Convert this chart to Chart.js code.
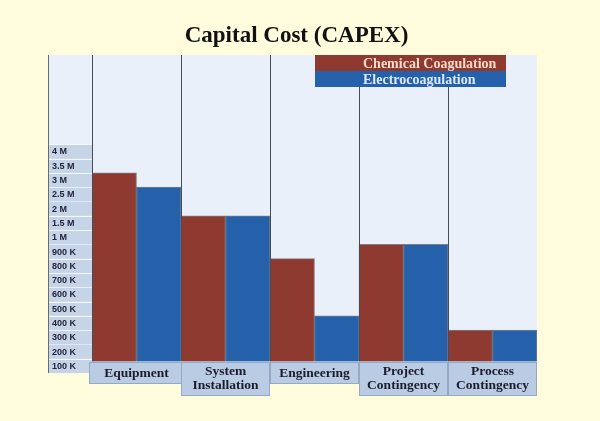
<!DOCTYPE html>
<html>
<head>
<meta charset="utf-8">
<script src="https://cdn.jsdelivr.net/npm/chart.js@4"></script>
<style>
  body { margin: 0; background: #fffcdd; }
  #wrap { position: relative; width: 600px; height: 421px; }
  #title {
    position: absolute; left: 0; top: 23px; width: 593px; text-align: center;
    font: bold 23px "Liberation Serif", serif; line-height: 24px; color: #111;
  }
  canvas { position: absolute; left: 0; top: 0; }
</style>
</head>
<body>
<div id="wrap">
  <canvas id="capexChart" width="600" height="421"></canvas>
  <div id="title">Capital Cost (CAPEX)</div>
</div>
<script>
const categories = [["Equipment"], ["System", "Installation"], ["Engineering"], ["Project", "Contingency"], ["Process", "Contingency"]];
const tickLabels = ["100 K", "200 K", "300 K", "400 K", "500 K", "600 K", "700 K", "800 K", "900 K", "1 M", "1.5 M", "2 M", "2.5 M", "3 M", "3.5 M", "4 M"];
const tickValues = [100000, 200000, 300000, 400000, 500000, 600000, 700000, 800000, 900000, 1000000, 1500000, 2000000, 2500000, 3000000, 3500000, 4000000];
const chemical = [3000000, 1500000, 800000, 900000, 300000];
const electro = [2500000, 1500000, 400000, 900000, 300000];

// the axis is not linear: each labelled box is one step, value sits on the top edge of its box
function toSteps(v) {
  for (let i = 0; i < tickValues.length - 1; i++) {
    if (v <= tickValues[i + 1]) {
      return i + 1 + (v - tickValues[i]) / (tickValues[i + 1] - tickValues[i]);
    }
  }
  return tickValues.length;
}

const decor = {
  id: 'decor',
  beforeDatasetsDraw(chart) {
    const { ctx, chartArea: a } = chart;
    ctx.save();
    ctx.fillStyle = '#eaf0fa';
    ctx.fillRect(48, a.top, a.right - 48, a.bottom - a.top);
    ctx.restore();
  },
  afterDatasetsDraw(chart) {
    const { ctx, chartArea: a, scales: { x, y } } = chart;
    const base = y.getPixelForValue(0.8);
    ctx.save();
    ctx.lineWidth = 1;
    const half = (x.getPixelForValue(1) - x.getPixelForValue(0)) / 2;
    const xs = [48.5];
    categories.forEach((c, i) => xs.push(Math.round(x.getPixelForValue(i) - half) + 0.5));
    xs.forEach(px => {
      ctx.strokeStyle = px < 50 ? '#6a6a75' : '#4a4a55';
      ctx.beginPath();
      ctx.moveTo(px, a.top);
      ctx.lineTo(px, px < 50 ? a.bottom : base);
      ctx.stroke();
    });
    ctx.restore();
  },
  afterDraw(chart) {
    const { ctx, chartArea: a, scales: { x, y } } = chart;
    ctx.save();
    // y labels in boxes
    tickLabels.forEach((t, k) => {
      const y0 = y.getPixelForValue(k + 1), y1 = y.getPixelForValue(k);
      ctx.fillStyle = '#c6d4e8';
      ctx.fillRect(49, y0, 43, y1 - y0);
      ctx.strokeStyle = '#f4f7fc';
      ctx.beginPath();
      ctx.moveTo(49, Math.round(y0) + 0.5);
      ctx.lineTo(92, Math.round(y0) + 0.5);
      ctx.stroke();
      ctx.fillStyle = '#24243a';
      ctx.font = 'bold 9px "Liberation Sans", sans-serif';
      ctx.textAlign = 'left';
      ctx.textBaseline = 'middle';
      ctx.fillText(t, 52, (y0 + y1) / 2 + 0.5);
    });
    // category label boxes
    const base = y.getPixelForValue(0.8);
    const half = (x.getPixelForValue(1) - x.getPixelForValue(0)) / 2;
    categories.forEach((lines, i) => {
      const cx = x.getPixelForValue(i);
      const left = i === 0 ? cx - half - 3 : cx - half;
      const right = cx + half + (i === 0 ? 2 : 0);
      const h = lines.length === 1 ? 21.5 : 34;
      ctx.fillStyle = '#b9cce4';
      ctx.fillRect(left, base, right - left, h);
      ctx.strokeStyle = '#94a9c4';
      ctx.strokeRect(Math.round(left) + 0.5, Math.round(base) + 0.5, Math.round(right - left) - 1, Math.round(h) - 1);
      ctx.fillStyle = '#1c1c2c';
      ctx.font = 'bold 13.5px "Liberation Serif", serif';
      ctx.textAlign = 'center';
      ctx.textBaseline = 'alphabetic';
      lines.forEach((l, j) => {
        const by = lines.length === 1 ? base + 15.5 : base + 13.5 + j * 14;
        ctx.fillText(l, cx, by);
      });
    });
    // legend boxes
    const legendX = 315, legendW = 191, rowH = 16;
    chart.data.datasets.forEach((ds, i) => {
      const top = a.top + i * rowH;
      ctx.fillStyle = ds.backgroundColor;
      ctx.fillRect(legendX, top, legendW, rowH);
      ctx.fillStyle = ds.legendText;
      ctx.font = 'bold 14px "Liberation Serif", serif';
      ctx.textAlign = 'left';
      ctx.textBaseline = 'middle';
      ctx.fillText(ds.label, 363, top + rowH / 2 + 1);
    });
    ctx.restore();
  }
};

new Chart(document.getElementById('capexChart'), {
  type: 'bar',
  data: {
    labels: categories,
    datasets: [
      {
        label: 'Chemical Coagulation',
        data: chemical.map(toSteps),
        backgroundColor: '#8e3a30',
        legendText: '#f8dcc6',
        borderColor: 'rgba(40,30,35,0.55)',
        borderWidth: 1,
        base: 0.8
      },
      {
        label: 'Electrocoagulation',
        data: electro.map(toSteps),
        backgroundColor: '#2461aa',
        legendText: '#dde9ff',
        borderColor: 'rgba(30,35,50,0.55)',
        borderWidth: 1,
        base: 0.8
      }
    ]
  },
  options: {
    responsive: false,
    animation: false,
    devicePixelRatio: 1,
    layout: { padding: { left: 92, right: 63, top: 55, bottom: 48 } },
    datasets: { bar: { categoryPercentage: 1, barPercentage: 1 } },
    scales: {
      x: { display: false },
      y: { display: false, min: 0, max: 22.25 }
    },
    plugins: {
      legend: { display: false },
      tooltip: { enabled: false }
    }
  },
  plugins: [decor]
});
</script>
</body>
</html>
